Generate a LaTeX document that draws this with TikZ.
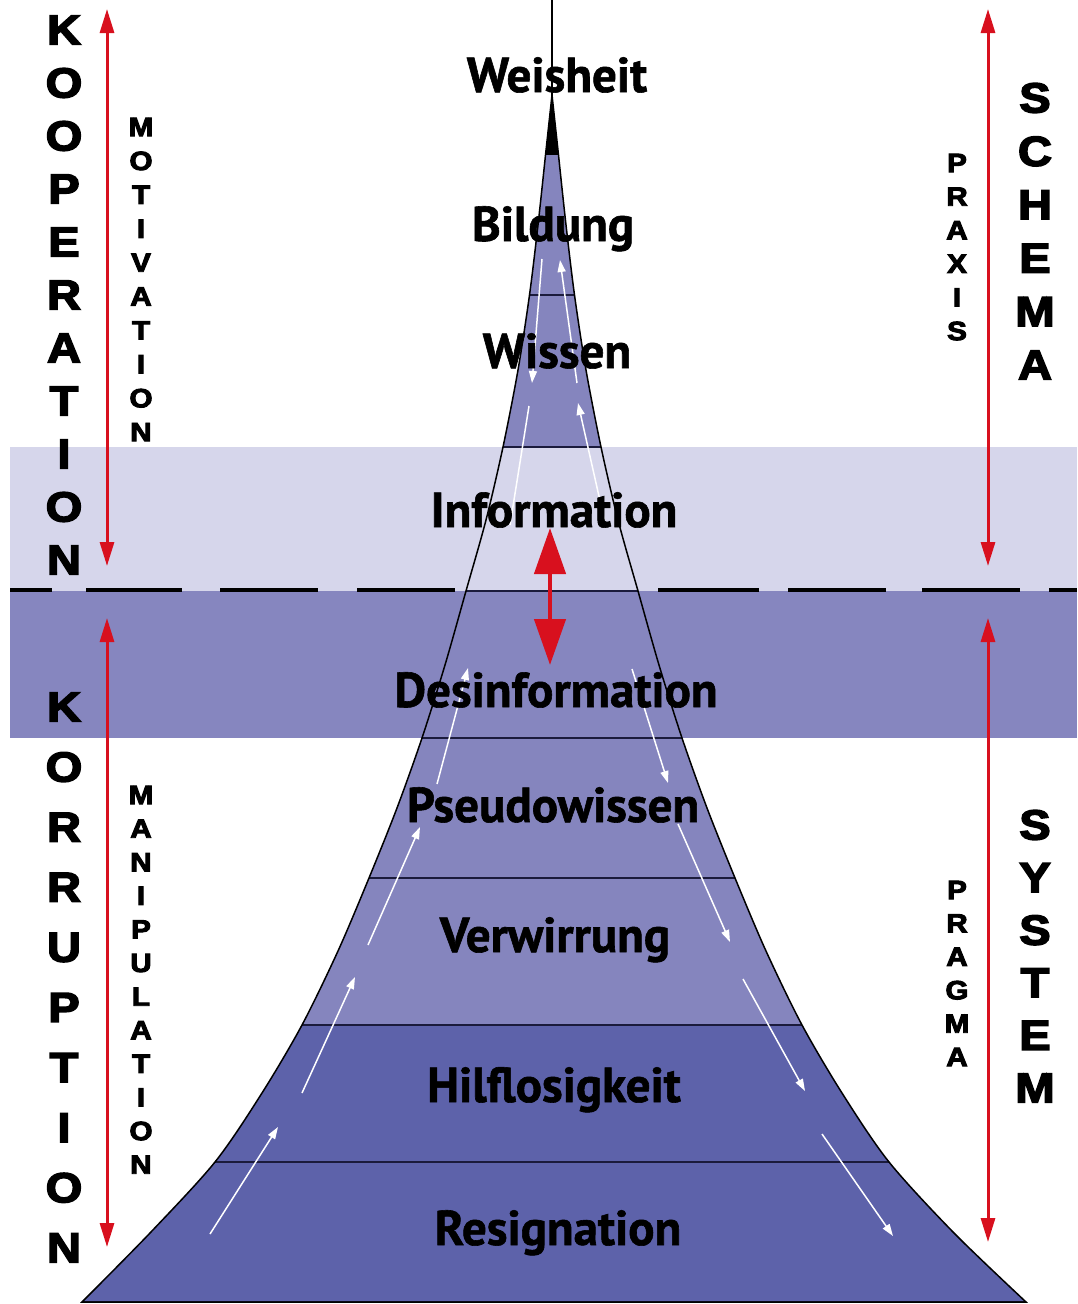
\documentclass[tikz,border=0pt]{standalone}
\usepackage{fontspec}
\setmainfont{PT Sans}
\newfontfamily\lblfont[FakeBold=1.2]{PT Sans}
\newfontfamily\heavyfont[FakeBold=3.5]{Liberation Sans}
\usetikzlibrary{arrows.meta}
\definecolor{bandlight}{HTML}{D6D6EB}
\definecolor{banddark}{HTML}{8686BF}
\definecolor{pyrmid}{HTML}{8585BE}
\definecolor{pyrdark}{HTML}{5D62AA}
\definecolor{redarr}{HTML}{D8101E}
\definecolor{divline}{HTML}{1B1B3C}
\begin{document}
\begin{tikzpicture}[x=1pt,y=-1pt,
  lbl/.style={font=\lblfont\bfseries\fontsize{49}{49}\selectfont, inner sep=0pt, anchor=base},
  bigl/.style={font=\heavyfont\bfseries\fontsize{42}{42}\selectfont, inner sep=0pt},
  smalll/.style={font=\heavyfont\bfseries\fontsize{26.5}{26.5}\selectfont, inner sep=0pt},
  redline/.style={draw=redarr, line width=3pt, {Triangle[length=24pt,width=14pt]}-{Triangle[length=24pt,width=14pt]}},
  bigred/.style={draw=redarr, line width=4.5pt, {Triangle[length=46pt,width=31pt]}-{Triangle[length=46pt,width=31pt]}},
  whitearr/.style={draw=white, line width=1.5pt, -{Triangle[length=12pt,width=8pt]}},
  whiteline/.style={draw=white, line width=1.5pt},
  divider/.style={draw=divline, line width=2pt},
  dashseg/.style={draw=black, line width=4pt}]
\def\pyr{plot[smooth,tension=0.5] coordinates {(82,1302) (150,1233) (215,1162) (262,1093) (302,1025) (338,951) (369,878) (397,808) (422,738) (445,665) (466,591) (486,520) (503,447) (518,370) (529.5,295) (538,225) (545.5,155)} -- (552,95) -- plot[smooth,tension=0.5] coordinates {(558.5,155) (566,225) (574.5,295) (586,370) (601,447) (618,520) (638,591) (659,665) (682,738) (707,808) (735,878) (766,951) (802,1025) (842,1093) (889,1162) (954,1233) (1026,1302)} -- cycle}
\useasboundingbox (0,0) rectangle (1077,1304);
\fill[white] (0,0) rectangle (1077,1304);
% bands
\fill[bandlight] (10,447) rectangle (1077,591);
\fill[banddark] (10,591) rectangle (1077,738);
% pyramid layers
\begin{scope}
  \clip \pyr;
  \fill[pyrmid] (0,0) rectangle (1077,447);
  \fill[bandlight] (0,447) rectangle (1077,591);
  \fill[banddark] (0,591) rectangle (1077,738);
  \fill[pyrmid] (0,738) rectangle (1077,1025);
  \fill[pyrdark] (0,1025) rectangle (1077,1304);
  \fill[black] (0,0) rectangle (1077,155);
  \foreach \yy in {295,447,591,738,878,1025,1162,1302}
    \draw[divider] (0,\yy) -- (1077,\yy);
\end{scope}
\draw[black, line width=1.5pt] \pyr;
\draw[black, line width=2pt] (551.5,0) -- (551.5,110);
% dashed separator
\foreach \a/\b in {10/52,86/182,220/318,357/455,658/759,788/886,922/1020,1049/1077}
  \draw[dashseg] (\a,590) -- (\b,590);
% red arrows
\coordinate (lt) at (107,9);   \coordinate (lb) at (107,566);
\coordinate (lt2) at (107,618); \coordinate (lb2) at (107,1247);
\coordinate (rt) at (988,9);   \coordinate (rb) at (988,566);
\coordinate (rt2) at (988,618); \coordinate (rb2) at (988,1242);
\coordinate (ct) at (550,528); \coordinate (cb) at (550,665);
\draw[redline] (lt) -- (lb);
\draw[redline] (lt2) -- (lb2);
\draw[redline] (rt) -- (rb);
\draw[redline] (rt2) -- (rb2);
\draw[bigred] (ct) -- (cb);
% white arrows
\draw[whitearr] (210,1234) -- (278,1127);
\draw[whitearr] (302,1093) -- (355,977);
\draw[whitearr] (368,945) -- (420,827);
\draw[whitearr] (437,784) -- (468,668);
\draw[whiteline] (510,525) -- (529,406);
\draw[whitearr] (542,259) -- (532,383);
\draw[whitearr] (577,383) -- (560,260);
\draw[whitearr] (605,523) -- (578,403);
\draw[whitearr] (632,669) -- (668,783);
\draw[whitearr] (678,824) -- (730,942);
\draw[whitearr] (743,979) -- (805,1091);
\draw[whitearr] (822,1134) -- (893,1236);
% labels
\node[lbl] (weisheit) at (557,92) {Weisheit};
\node[lbl] (bildung) at (553,241) {Bildung};
\node[lbl] (wissen) at (557,368) {Wissen};
\node[lbl] (information) at (554,527) {Information};
\node[lbl] (desinformation) at (556,707) {Desinformation};
\node[lbl] (pseudowissen) at (553,822) {Pseudowissen};
\node[lbl] (verwirrung) at (555,952) {Verwirrung};
\node[lbl] (hilflosigkeit) at (554,1102) {Hilflosigkeit};
\node[lbl] (resignation) at (558,1245) {Resignation};
% vertical words
\foreach \ch [count=\i from 0] in {K,O,O,P,E,R,A,T,I,O,N}
  \node[bigl] (koop\i) at (64,30+53*\i) {\scalebox{1.12}[1]{\ch}};
\foreach \ch [count=\i from 0] in {K,O,R,R,U,P,T,I,O,N}
  \node[bigl] (korr\i) at (64,707+60.1*\i) {\scalebox{1.12}[1]{\ch}};
\foreach \ch [count=\i from 0] in {S,C,H,E,M,A}
  \node[bigl] (sche\i) at (1035,98+53.4*\i) {\scalebox{1.12}[1]{\ch}};
\foreach \ch [count=\i from 0] in {S,Y,S,T,E,M}
  \node[bigl] (syst\i) at (1035,825+52.6*\i) {\scalebox{1.12}[1]{\ch}};
\foreach \ch [count=\i from 0] in {M,O,T,I,V,A,T,I,O,N}
  \node[smalll] (moti\i) at (141,127+33.9*\i) {\scalebox{1.12}[1]{\ch}};
\foreach \ch [count=\i from 0] in {M,A,N,I,P,U,L,A,T,I,O,N}
  \node[smalll] (mani\i) at (141,795+33.6*\i) {\scalebox{1.12}[1]{\ch}};
\foreach \ch [count=\i from 0] in {P,R,A,X,I,S}
  \node[smalll] (prax\i) at (957,163+33.6*\i) {\scalebox{1.12}[1]{\ch}};
\foreach \ch [count=\i from 0] in {P,R,A,G,M,A}
  \node[smalll] (prag\i) at (957,890+33.4*\i) {\scalebox{1.12}[1]{\ch}};
\end{tikzpicture}
\end{document}
